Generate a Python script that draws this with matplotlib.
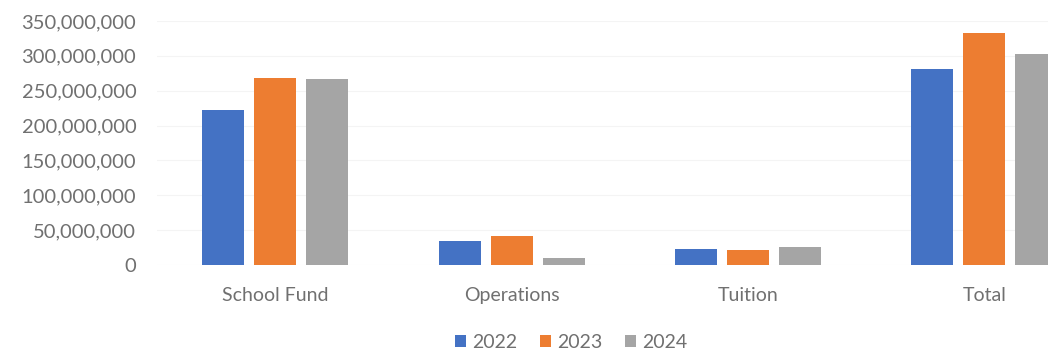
import numpy as np
import matplotlib.pyplot as plt
from matplotlib.ticker import FuncFormatter

plt.rcParams["font.family"] = ["Lato", "DejaVu Sans"]

categories = ["School Fund", "Operations", "Tuition", "Total"]
years = ["2022", "2023", "2024"]
v2022 = [223_000_000, 35_000_000, 23_000_000, 281_000_000]
v2023 = [268_000_000, 42_000_000, 22_000_000, 332_000_000]
v2024 = [267_000_000, 10_000_000, 26_000_000, 303_000_000]
colors = ["#4472C4", "#ED7D31", "#A5A5A5"]

fig = plt.figure(figsize=(10.48, 3.55), dpi=100)
ax = fig.add_axes([0.150, 0.2535, 0.850, 0.6875])

x = np.arange(len(categories))
width = 0.178
step = 0.22
for i, (vals, c, lab) in enumerate(zip([v2022, v2023, v2024], colors, years)):
    ax.bar(x + (i - 1) * step, vals, width, color=c, label=lab, zorder=2)

ax.set_xlim(-0.5, 3.27)
ax.set_ylim(0, 350_000_000)
ax.set_yticks(np.arange(0, 350_000_001, 50_000_000))
ax.yaxis.set_major_formatter(FuncFormatter(lambda v, p: f"{int(v):,}"))
ax.set_xticks(x, categories)
ax.grid(axis="y", color="#f4f4f4", linewidth=0.8, zorder=0)
for s in ax.spines.values():
    s.set_visible(False)
ax.tick_params(axis="y", length=0, pad=15, labelsize=14.5, labelcolor="#707070")
ax.tick_params(axis="x", length=0, pad=16, labelsize=14, labelcolor="#707070")

leg = fig.legend(loc="center", bbox_to_anchor=(0.545, 0.035), ncol=3, frameon=False,
                 fontsize=14, handlelength=0.55, handleheight=0.55, handletextpad=0.3,
                 columnspacing=1.2)
for t in leg.get_texts():
    t.set_color("#707070")

fig.savefig("out.png", dpi=100)
